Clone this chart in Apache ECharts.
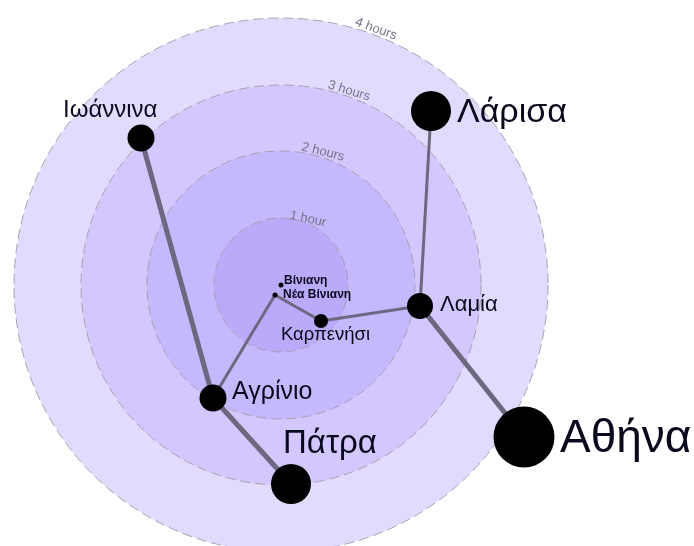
<!DOCTYPE html>
<html><head><meta charset="utf-8">
<style>html,body{margin:0;padding:0;background:#fff}#c{width:694px;height:546px}</style>
<script src="https://cdn.jsdelivr.net/npm/echarts@6/dist/echarts.min.js"></script>
</head><body><div id="c"></div>
<script>
// Rings
const ringCentre = [281, 285];
const ringNames = ['4 hours', '3 hours', '2 hours', '1 hour'];
const ringRadii = [267, 200, 134, 67];
const ringColors = ['#e3dbfd', '#d3c7fd', '#c6b8fc', '#bbaafa'];
const ringLabelPos = [[376, 29], [349, 91], [323, 152], [308, 219]];
const ringLabelRot = [-20, -17, -14, -12];

// Towns
const townNames = ['Ιωάννινα', 'Λάρισα', 'Λαμία', 'Αγρίνιο', 'Πάτρα', 'Αθήνα', 'Καρπενήσι', 'Βίνιανη', 'Νέα Βίνιανη'];
const townPos = [[141,138],[431,111],[420,306],[213,398],[291,484],[524,437],[321,321],[281,285],[275,295]];
const townSizes = [27, 40, 26, 27, 40, 61, 14, 5, 5];
const townLabelPos = [[63,110],[457,113],[440,305],[232,392],[283,444],[560,439],[281,335],[284,281],[283,295]];
const townFont = [24, 34, 22, 25, 33, 46, 18.5, 12, 12];
const townBold = [0, 0, 0, 0, 0, 0, 0, 1, 1];

// Roads
const roadFrom = [0, 3, 2, 1, 2, 6, 8];
const roadTo = [3, 4, 5, 2, 6, 8, 3];
const roadWidth = [5, 5, 5, 3, 3, 3, 3];

const chart = echarts.init(document.getElementById('c'), null, {renderer: 'canvas'});
const font = '"Liberation Sans", Arial, sans-serif';
chart.setOption({
  animation: false,
  backgroundColor: '#ffffff',
  grid: {left: 0, right: 0, top: 0, bottom: 0},
  xAxis: {type: 'value', min: 0, max: 694, show: false},
  yAxis: {type: 'value', min: 0, max: 546, inverse: true, show: false},
  series: [
    {
      type: 'scatter', z: 1, silent: true,
      data: ringRadii.map((r, i) => ({
        value: ringCentre,
        symbolSize: r * 2,
        itemStyle: {color: ringColors[i], opacity: 1, borderColor: '#a5a1b3', borderWidth: 1, borderType: [10, 5]}
      }))
    },
    {
      type: 'scatter', z: 2, silent: true, symbolSize: 0,
      itemStyle: {opacity: 1},
      data: ringNames.map((n, i) => ({
        value: ringLabelPos[i],
        label: {show: true, position: 'inside', formatter: n, rotate: ringLabelRot[i],
                fontFamily: font, fontSize: 13, color: '#77748a'}
      }))
    },
    {
      type: 'graph', coordinateSystem: 'cartesian2d', z: 3, silent: true,
      layout: 'none', roam: false,
      data: townNames.map((n, i) => ({
        name: n, value: townPos[i], symbolSize: townSizes[i],
        itemStyle: {color: '#000000', opacity: 1}
      })),
      edges: roadFrom.map((f, i) => ({
        source: f, target: roadTo[i],
        lineStyle: {width: roadWidth[i], color: '#6d6880', opacity: 1, curveness: 0}
      })),
      label: {show: false}
    },
    {
      type: 'scatter', z: 4, silent: true, symbolSize: 0,
      itemStyle: {opacity: 1},
      data: townNames.map((n, i) => ({
        value: townLabelPos[i],
        label: {show: true, position: 'right', distance: 0, formatter: n,
                fontFamily: font, fontSize: townFont[i],
                fontWeight: townBold[i] ? 'bold' : 'normal', color: '#0a0a1e'}
      }))
    }
  ]
});
</script></body></html>
